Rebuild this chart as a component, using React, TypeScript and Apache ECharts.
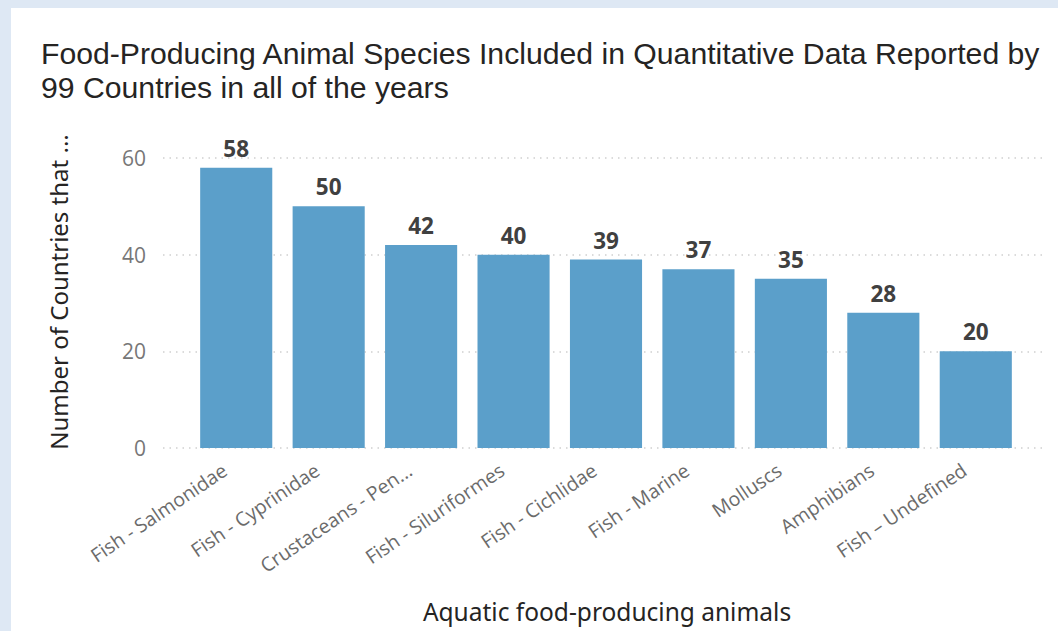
import React, { useEffect, useRef } from "react";
import * as echarts from "echarts";

const categories = [
  "Fish - Salmonidae",
  "Fish - Cyprinidae",
  "Crustaceans - Pen...",
  "Fish - Siluriformes",
  "Fish - Cichlidae",
  "Fish - Marine",
  "Molluscs",
  "Amphibians",
  "Fish – Undefined",
];
const values = [58, 50, 42, 40, 39, 37, 35, 28, 20];
const yTicks = [0, 20, 40, 60];
const titleLines = [
  "Food-Producing Animal Species Included in Quantitative Data Reported by",
  "99 Countries in all of the years",
];
const yAxisTitle = "Number of Countries that ...";
const xAxisTitle = "Aquatic food-producing animals";

const TITLE = "'Liberation Sans', Arial, sans-serif";
const DIN = "'Noto Sans', 'DejaVu Sans', sans-serif";
const SEGOE = "'Open Sans', 'Noto Sans', sans-serif";

export default function App() {
  const ref = useRef<HTMLDivElement>(null);
  useEffect(() => {
    document.body.style.margin = "0";
    const chart = echarts.init(ref.current!, undefined, { renderer: "svg" });
    const yMin = yTicks[0];
    const yMax = yTicks[yTicks.length - 1];
    const yInterval = yTicks[1] - yTicks[0];
    chart.setOption({
      animation: false,
      backgroundColor: "#dee8f4",
      graphic: [
        {
          type: "rect",
          z: -10,
          shape: { x: 11, y: 8, width: 1100, height: 700 },
          style: { fill: "#ffffff" },
        },
        ...titleLines.map((line, i) => ({
          type: "text",
          x: 41,
          y: 53 + i * 34.5,
          style: {
            text: line,
            font: `30.2px ${TITLE}`,
            fill: "#252423",
            verticalAlign: "middle",
          },
        })),
        {
          type: "text",
          x: 58,
          y: 292,
          rotation: Math.PI / 2,
          style: {
            text: yAxisTitle,
            font: `24px ${DIN}`,
            fill: "#252423",
            align: "center",
            verticalAlign: "middle",
          },
        },
        {
          type: "text",
          x: 607,
          y: 611,
          style: {
            text: xAxisTitle,
            font: `24.5px ${DIN}`,
            fill: "#252423",
            align: "center",
            verticalAlign: "middle",
          },
        },
      ],
      grid: [
        { left: 163, right: 12, top: 158, bottom: 183 },
        { left: 190, right: 36, top: 158, bottom: 183 },
      ],
      xAxis: [
        { type: "value", gridIndex: 0, show: false, min: 0, max: 1 },
        {
          type: "category",
          gridIndex: 1,
          data: categories,
          axisLine: { show: false },
          axisTick: { show: false },
          axisLabel: {
            rotate: 34,
            interval: 0,
            margin: 12,
            padding: [0, 14, 0, 0],
            color: "#6b6b6b",
            fontFamily: SEGOE,
            fontSize: 19.5,
          },
        },
      ],
      yAxis: [
        {
          type: "value",
          gridIndex: 0,
          min: yMin,
          max: yMax,
          interval: yInterval,
          axisLine: { show: false },
          axisTick: { show: false },
          axisLabel: {
            margin: 17,
            color: "#777777",
            fontFamily: SEGOE,
            fontSize: 21,
          },
          splitLine: {
            lineStyle: { color: "#cfcfcf", type: [1.5, 5], width: 1.5 },
          },
        },
        {
          type: "value",
          gridIndex: 1,
          min: yMin,
          max: yMax,
          interval: yInterval,
          show: false,
          splitLine: { show: false },
        },
      ],
      series: [
        {
          type: "bar",
          xAxisIndex: 1,
          yAxisIndex: 1,
          data: values,
          barCategoryGap: "22%",
          itemStyle: { color: "#5b9fca" },
          label: {
            show: true,
            position: "top",
            distance: 8,
            color: "#404040",
            fontFamily: DIN,
            fontWeight: "bold",
            fontSize: 22.5,
          },
        },
      ],
    });
    return () => chart.dispose();
  }, []);
  return <div ref={ref} style={{ width: 1058, height: 631 }} />;
}
